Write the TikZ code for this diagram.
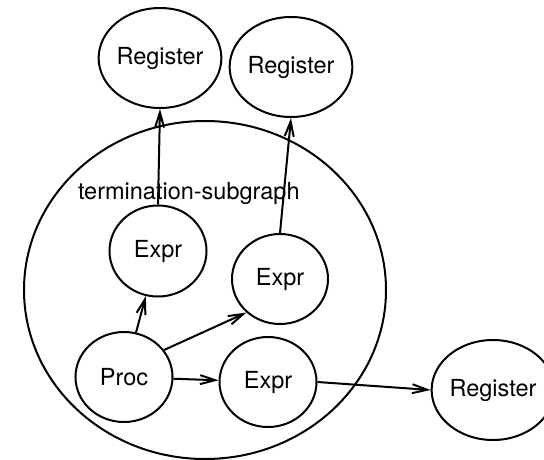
\documentclass[tikz,border=0pt]{standalone}
\usepackage{fontspec}
\setmainfont{TeX Gyre Heros}
\usetikzlibrary{shapes.geometric,arrows.meta}

\begin{document}
\begin{tikzpicture}[x=1pt,y=-1pt,line width=2pt,
    font=\fontsize{23.5}{28}\selectfont,
    >={Straight Barb[length=15pt,width=9pt]}]
    \useasboundingbox (0,0) rectangle (544,459);

    \def \Nodes {
      r1/160/58/104/100/Register,
      r2/291/67/108/100/Register,
      r3/493/390/102/100/Register,
      e1/158/251/97/91/Expr,
      e2/280/279/96/90/Expr,
      e3/268/382/97/90/Expr,
      p/124/377/97/90/Proc}
    \def \Edges {
      e1.north/r1.south,
      e2.north/r2.south,
      p/e1,
      p.34/e2.225,
      p/e3,
      e3.east/r3.west}

    % the subgraph
    \node[draw,ellipse,inner sep=0,minimum width=362,minimum height=338] (sub) at (205,290) {};
    \node[anchor=base west,inner sep=0] (sublabel) at (77,199) {termination-subgraph};

    \foreach \id / \x / \y / \w / \h / \name in \Nodes {
      \node[draw,ellipse,inner sep=0,minimum width=\w,minimum height=\h] (\id) at (\x, \y) {\name};
    }
    \foreach \a / \b in \Edges {
      \path[draw,->] (\a) -- (\b);
    }
  \end{tikzpicture}
\end{document}
